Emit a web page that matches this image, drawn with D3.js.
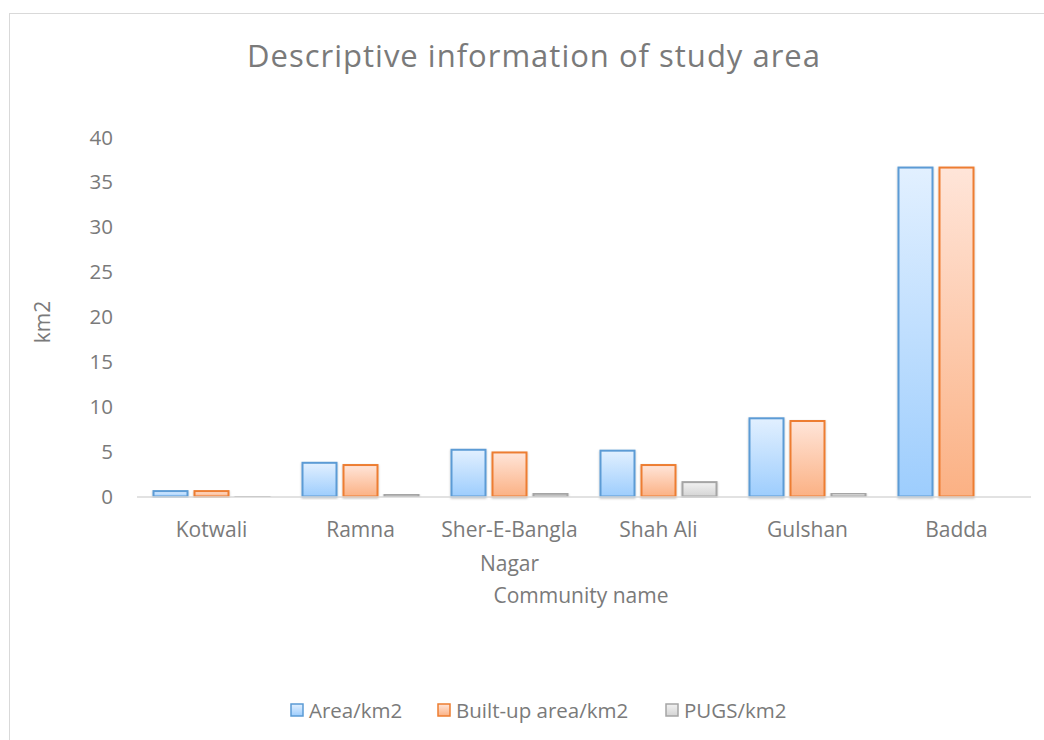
<!DOCTYPE html>
<html>
<head>
<meta charset="utf-8">
<script src="https://cdn.jsdelivr.net/npm/d3@7"></script>
<style>
  body { margin: 0; background: #fff; }
  text { font-family: 'Open Sans', 'Noto Sans', sans-serif; fill: #7a7a7a; }
</style>
</head>
<body>
<svg width="1044" height="740"></svg>
<script>
const communities = ['Kotwali', 'Ramna', 'Sher-E-Bangla Nagar', 'Shah Ali', 'Gulshan', 'Badda']
const seriesNames = ['Area/km2', 'Built-up area/km2', 'PUGS/km2']
const areaValues = [0.6, 3.75, 5.2, 5.1, 8.7, 36.6]
const builtUpValues = [0.6, 3.5, 4.9, 3.5, 8.4, 36.6]
const pugsValues = [0.05, 0.25, 0.3, 1.6, 0.35, 0]
const yTicks = [0, 5, 10, 15, 20, 25, 30, 35, 40]

const seriesValues = [areaValues, builtUpValues, pugsValues]
const strokes = ['#5b9bd5', '#ed7d31', '#a5a5a5']
const gradTop = ['#e2f0ff', '#ffe5d9', '#f2f2f2']
const gradBottom = ['#9dcdfd', '#fbb184', '#d4d4d4']

const svg = d3.select('svg')
const plotLeft = 137, plotRight = 1031, plotTop = 137, plotBottom = 496.5

svg.append('rect')
  .attr('x', 9.5).attr('y', 13.5)
  .attr('width', 1060).attr('height', 760)
  .attr('fill', 'none').attr('stroke', '#d9d9d9')

const defs = svg.append('defs')
seriesNames.forEach((s, i) => {
  const g = defs.append('linearGradient')
    .attr('id', 'grad' + i)
    .attr('x1', 0).attr('y1', 0).attr('x2', 0).attr('y2', 1)
  g.append('stop').attr('offset', '0%').attr('stop-color', gradTop[i])
  g.append('stop').attr('offset', '100%').attr('stop-color', gradBottom[i])
})
const f = defs.append('filter').attr('id', 'shadow')
  .attr('x', '-20%').attr('y', '-5%').attr('width', '140%').attr('height', '115%')
f.append('feDropShadow').attr('dx', 0).attr('dy', 1).attr('stdDeviation', 1.2)
  .attr('flood-color', '#000').attr('flood-opacity', 0.25)

const x = d3.scaleBand().domain(communities).range([plotLeft, plotRight]).paddingInner(0.2282).paddingOuter(0.1141)
const barW = 34, barGap = 7
const y = d3.scaleLinear().domain([0, 40]).range([plotBottom, plotTop])

// title
svg.append('text')
  .attr('x', 534).attr('y', 67)
  .attr('text-anchor', 'middle')
  .attr('font-size', 31)
  .attr('letter-spacing', 1)
  .text('Descriptive information of study area')

// y ticks
svg.append('g').selectAll('text')
  .data(yTicks).enter().append('text')
  .attr('x', 113).attr('y', d => y(d) + 7.5)
  .attr('text-anchor', 'end')
  .attr('font-size', 20.5)
  .text(d => d)

svg.append('text')
  .attr('transform', 'translate(50,322) rotate(-90)')
  .attr('text-anchor', 'middle')
  .attr('font-size', 21)
  .text('km2')

// bars
const groups = svg.append('g').selectAll('g')
  .data(communities).enter().append('g')
  .attr('transform', d => `translate(${x(d) + x.bandwidth() / 2},0)`)

groups.selectAll('rect')
  .data((d, ci) => seriesValues.map((vals, si) => ({ si, v: vals[ci] })).filter(d => d.v > 0))
  .enter().append('rect')
  .attr('x', d => (d.si - 1) * (barW + barGap) - barW / 2)
  .attr('y', d => y(d.v))
  .attr('width', barW)
  .attr('height', d => Math.max(plotBottom - y(d.v), 0.5))
  .attr('fill', d => `url(#grad${d.si})`)
  .attr('stroke', d => strokes[d.si])
  .attr('stroke-width', 2)
  .attr('filter', 'url(#shadow)')

// x axis line
svg.append('line')
  .attr('x1', plotLeft).attr('x2', plotRight)
  .attr('y1', plotBottom + 0.5).attr('y2', plotBottom + 0.5)
  .attr('stroke', '#d9d9d9').attr('stroke-width', 1.5)

// category labels
const catLabels = svg.append('g').selectAll('text')
  .data(communities).enter().append('text')
  .attr('x', d => x(d) + x.bandwidth() / 2)
  .attr('y', 537)
  .attr('text-anchor', 'middle')
  .attr('font-size', 21)
catLabels.each(function (d) {
  const t = d3.select(this)
  const parts = d === 'Sher-E-Bangla Nagar' ? ['Sher-E-Bangla', 'Nagar'] : [d]
  parts.forEach((p, i) => {
    t.append('tspan')
      .attr('x', x(d) + x.bandwidth() / 2)
      .attr('dy', i === 0 ? 0 : 34)
      .text(p)
  })
})

svg.append('text')
  .attr('x', 581).attr('y', 603)
  .attr('text-anchor', 'middle')
  .attr('font-size', 21)
  .text('Community name')

// legend
const legendX = [290, 437, 665]
const legend = svg.append('g').selectAll('g')
  .data(seriesNames).enter().append('g')
  .attr('transform', (d, i) => `translate(${legendX[i]},703)`)
legend.append('rect')
  .attr('x', 1).attr('y', 1).attr('width', 12).attr('height', 12)
  .attr('fill', (d, i) => `url(#grad${i})`)
  .attr('stroke', (d, i) => strokes[i]).attr('stroke-width', 1.5)
legend.append('text')
  .attr('x', 19).attr('y', 15)
  .attr('font-size', 20.5)
  .text(d => d)
</script>
</body>
</html>
